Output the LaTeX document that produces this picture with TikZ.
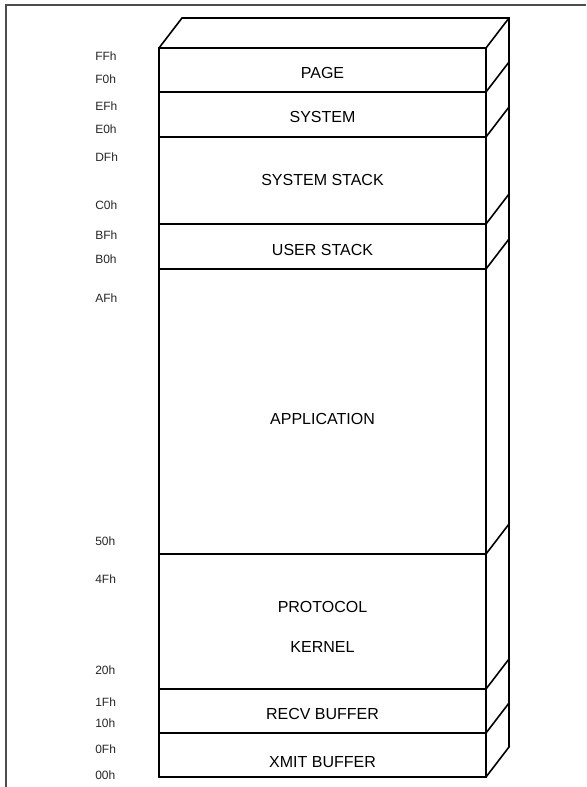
\documentclass[tikz,border=0pt]{standalone}
\usepackage{fontspec}
\setmainfont{Liberation Sans}
\usetikzlibrary{positioning}

\begin{document}
\begin{tikzpicture}[
        x=0.75pt, y=-0.75pt,
        frame/.style={draw=black!70, line width=1.5pt},
        edge/.style={draw, line width=1.2pt},
        region/.style={font=\fontsize{12}{14}\selectfont},
        addr/.style={anchor=west, inner sep=0pt, font=\fontsize{9}{11}\selectfont, text=black!85}
      ]
      \useasboundingbox (0,0) rectangle (586,787);
      % page frame, top and left only
      \coordinate (fbl) at (6,787);
      \coordinate (ftl) at (6,5);
      \coordinate (ftr) at (586,5);
      \draw[frame] (fbl) -- (ftl) -- (ftr);
      % the stack, front face and back edges
      \coordinate (tl) at (159,48);
      \coordinate (br) at (486,777);
      \draw[edge] (tl) rectangle (br);
      \draw[edge] (tl) -- ++(23,-30) -- (509,18) -- (509,747) -- (br);
      \foreach \y in {48,92,137,224,269,554,689,733}
        \draw[edge] (159,\y) -- (486,\y) -- ++(23,-30);
      % regions
      \node[region] (page) at (322.5,73) {PAGE};
      \node[region] (sys) at (322.5,117) {SYSTEM};
      \node[region] (sysstack) at (322.5,180) {SYSTEM STACK};
      \node[region] (userstack) at (322.5,250) {USER STACK};
      \node[region] (app) at (322.5,419) {APPLICATION};
      \node[region] (proto) at (322.5,607) {PROTOCOL};
      \node[region] (kernel) at (322.5,647) {KERNEL};
      \node[region] (recv) at (322.5,714) {RECV BUFFER};
      \node[region] (xmit) at (322.5,762) {XMIT BUFFER};
      % addresses
      \foreach \y/\t in {55.7/FF,79/F0,106/EF,129.3/E0,156.7/DF,205/C0,235/BF,259.3/B0,
          298/AF,541/50,579/4F,670/20,701.7/1F,723/10,749/0F,775.7/00}
        \node[addr] (a\t) at (95,\y) {\t h};
    \end{tikzpicture}
\end{document}
